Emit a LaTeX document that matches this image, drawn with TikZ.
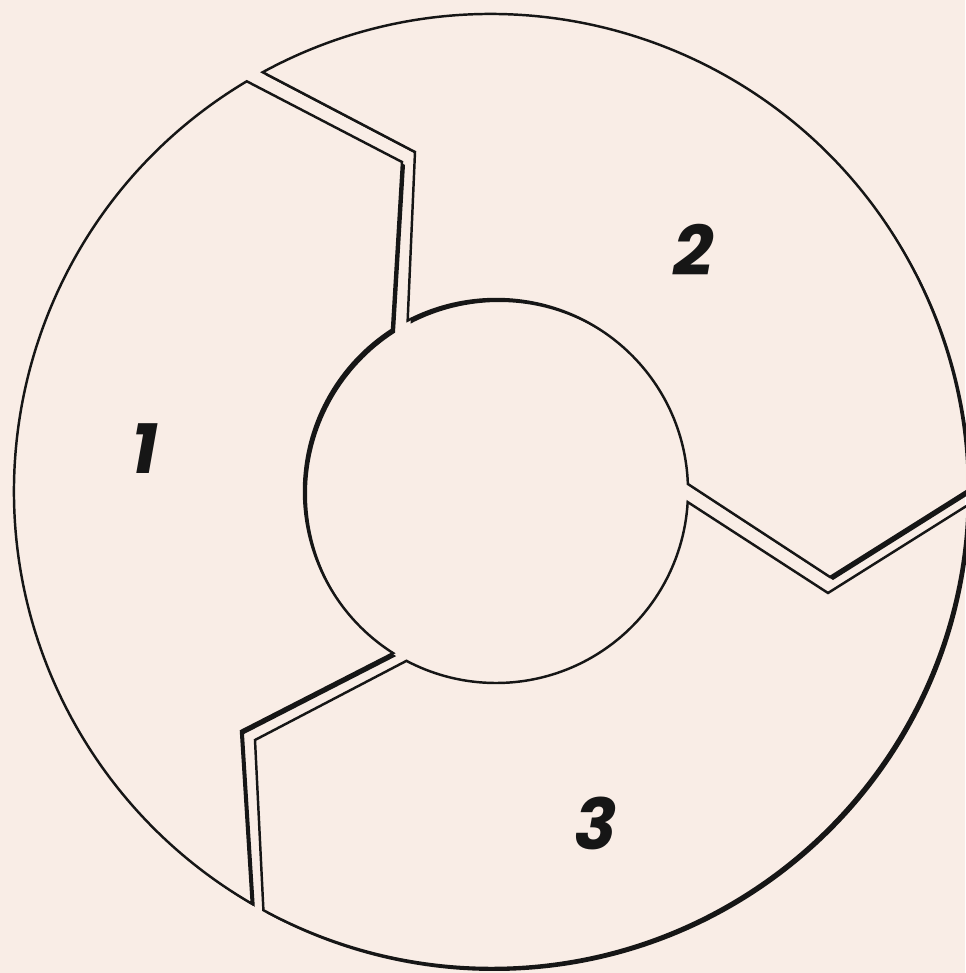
\documentclass[tikz,border=0pt]{standalone}
\usepackage{fontspec}
\newfontfamily\stepfont{Poppins}
\definecolor{ringbg}{HTML}{F9EDE6}
\definecolor{ringink}{HTML}{161616}
\usetikzlibrary{calc}

\begin{document}
\begin{tikzpicture}[x=0.02cm,y=-0.02cm,font=\stepfont\bfseries\itshape\fontsize{40}{40}\selectfont]
        \tikzset{
            ringpart/.style={
                fill=ringbg,
                draw=ringink,
                line width=1.4pt,
                line join=miter
            },
            ringshadow/.style={
                fill=ringink
            },
            ringlabel/.style={
                text=ringink,
                inner sep=0pt
            }
        }

        \useasboundingbox (0,0) rectangle (965,973);
        \fill[ringbg] (0,0) rectangle (965,973);

        \coordinate (outerc) at (491,491);
        \coordinate (innerc) at (496,491);

        % part 1 (left)
        \coordinate (oneout) at ($(outerc)+(239.2:477)$);
        \coordinate (onelow) at (241,731);
        \coordinate (onein) at ($(innerc)+(122.4:192)$);
        \coordinate (oneup) at (402,162);
        % part 2 (top right)
        \coordinate (twoout) at ($(outerc)+(241.4:477)$);
        \coordinate (tworight) at (830,577);
        \coordinate (twoin) at ($(innerc)+(357.9:192)$);
        \coordinate (twoup) at (415,152);
        % part 3 (bottom)
        \coordinate (threein) at ($(innerc)+(3.3:192)$);
        \coordinate (threeright) at (828,593);
        \coordinate (threeout) at ($(outerc)+(118.5:477)$);
        \coordinate (threelow) at (255,740);

        \def\partone{(oneout) arc[start angle=239.2, end angle=120.1, radius=477]
            -- (onelow) -- (onein) arc[start angle=122.4, end angle=237.2, radius=192]
            -- (oneup) -- cycle}
        \def\parttwo{(twoout) arc[start angle=241.4, end angle=359.9, radius=477]
            -- (tworight) -- (twoin) arc[start angle=357.9, end angle=242.6, radius=192]
            -- (twoup) -- cycle}
        \def\partthree{(threein) -- (threeright)
            -- ($(outerc)+(1.7:477)$) arc[start angle=1.7, end angle=118.5, radius=477]
            -- (threelow) -- ($(innerc)+(117.8:192)$) arc[start angle=117.8, end angle=3.3, radius=192]
            -- cycle}

        \begin{scope}[transform canvas={shift={(3,3)}}]
            \fill[ringshadow] \partone;
            \fill[ringshadow] \parttwo;
            \fill[ringshadow] \partthree;
        \end{scope}

        \filldraw[ringpart] \partone;
        \filldraw[ringpart] \parttwo;
        \filldraw[ringpart] \partthree;

        \node[ringlabel] (one) at (145,449) {1};
        \node[ringlabel] (two) at (694,250) {2};
        \node[ringlabel] (three) at (596,823) {3};
    \end{tikzpicture}
\end{document}
